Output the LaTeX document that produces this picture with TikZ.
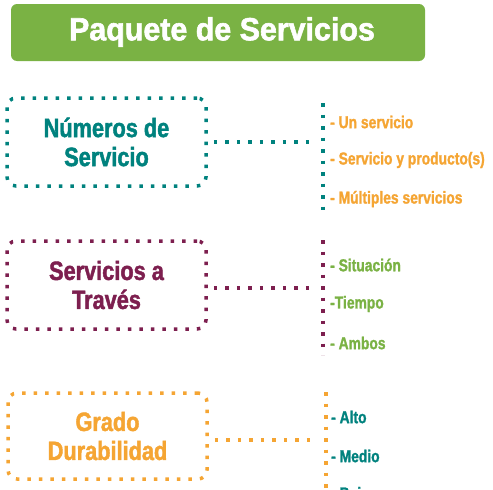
\documentclass[tikz,border=0pt]{standalone}
\usepackage{fontspec}
\setmainfont{Liberation Sans}
\newfontfamily\condfont{Liberation Sans Bold}[FakeStretch=0.82, FakeBold=1.6]
\newfontfamily\itemfont{Liberation Sans Bold}[FakeStretch=0.8, FakeBold=1.3]
\newfontfamily\titlefont{Liberation Sans Bold}[FakeStretch=0.95, FakeBold=1.8]
\definecolor{teal1}{HTML}{00827E}
\definecolor{maroon1}{HTML}{7D1F4F}
\definecolor{orange1}{HTML}{F5A533}
\definecolor{green1}{HTML}{7AB244}
\begin{document}
\begin{tikzpicture}[x=1pt,y=-1pt,
  dots/.style={line width=3.5pt, dash pattern=on 3.5pt off 8pt},
  catbox/.style={draw, dots, rounded corners=9pt, minimum width=199pt, align=center,
     font=\condfont\fontsize{26.5}{29}\selectfont, inner sep=0pt},
  item/.style={anchor=west, inner sep=0pt, font=\itemfont\fontsize{17.3}{18}\selectfont}]
\path[fill=white] (0,0) rectangle (493,490);
\clip (0,0) rectangle (493,490);
% title
\node[fill=green1, rounded corners=6pt, minimum width=414pt, minimum height=57pt, inner sep=0pt] (title) at (218,32.5) {};
\node[text=white, font=\titlefont\fontsize{32}{34}\selectfont, inner sep=0pt] (titletext) at (222,32) {Paquete de Servicios};
% boxes
\node[catbox, draw=teal1, text=teal1, minimum height=88pt] (b1) at (106.5,142) {Números de\\Servicio};
\node[catbox, draw=maroon1, text=maroon1, minimum height=88pt] (b2) at (106.5,285) {Servicios a\\Través};
\node[catbox, draw=orange1, text=orange1, minimum height=86pt] (b3) at (107.5,436) {Grado\\Durabilidad};
% vertical bars
\coordinate (v1t) at (323,103); \coordinate (v1b) at (323,214);
\coordinate (v2t) at (323,240); \coordinate (v2b) at (323,355);
\coordinate (v3t) at (326,392); \coordinate (v3b) at (326,495);
\coordinate (h1) at (316,142); \coordinate (h2) at (316,288); \coordinate (h3) at (318,440);
\draw[dots, teal1] (v1t) -- (v1b);
\draw[dots, maroon1] (v2t) -- (v2b);
\draw[dots, orange1] (v3t) -- (v3b);
\draw[dots, teal1] (b1.east |- h1) ++(6,0) -- (h1);
\draw[dots, maroon1] (b2.east |- h2) ++(6,0) -- (h2);
\draw[dots, orange1] (b3.east |- h3) ++(6,0) -- (h3);
% items
\node[item, text=orange1] (i11) at (330,122) {- Un servicio};
\node[item, text=orange1] (i12) at (330,160) {- Servicio y producto(s)};
\node[item, text=orange1] (i13) at (330,199) {- Múltiples servicios};
\node[item, text=green1] (i21) at (330,265) {- Situación};
\node[item, text=green1] (i22) at (330,304) {-Tiempo};
\node[item, text=green1] (i23) at (330,343) {- Ambos};
\node[item, text=teal1] (i31) at (331,417) {- Alto};
\node[item, text=teal1] (i32) at (331,456) {- Medio};
\node[item, text=teal1] (i33) at (331,495) {- Bajo};
\end{tikzpicture}
\end{document}
